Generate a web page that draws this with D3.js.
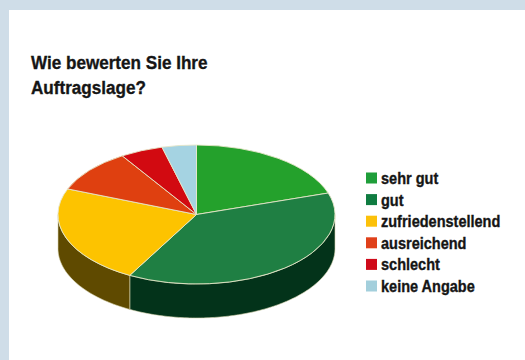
<!DOCTYPE html>
<html>
<head>
<meta charset="utf-8">
<script src="https://cdn.jsdelivr.net/npm/d3@7"></script>
<style>
html,body{margin:0;padding:0;background:#cfdde8;}
svg{display:block;}
text{font-family:"Liberation Sans",sans-serif;font-weight:700;fill:#151515;stroke:#151515;stroke-width:0.35;}
</style>
</head>
<body>
<svg id="chart" width="525" height="360"></svg>
<script>
const titleLines = ["Wie bewerten Sie Ihre", "Auftragslage?"];
const categories = ["sehr gut", "gut", "zufriedenstellend", "ausreichend", "schlecht", "keine Angabe"];
const shares = [20, 38, 23, 10, 5, 4];
const topColors = ["#24a12c", "#1f7f43", "#fdc300", "#df4010", "#d20a11", "#a5d3e2"];
const sideColors = ["#03331a", "#03331a", "#5f4a00", "#7a2406", "#6d0508", "#5a7a85"];
const legendColors = ["#1f9e3a", "#0f7c41", "#fcc10a", "#e0401a", "#cf0a1a", "#a3cfdc"];

const width = 525, height = 360;
const cx = 196.5, cy = 214.5, rx = 138.5, ry = 69.5, depth = 34;

const svg = d3.select("#chart");

svg.append("rect").attr("x", 9).attr("y", 10)
  .attr("width", width - 9).attr("height", height - 10).attr("fill", "#fff");

// Title, set in a condensed bold
svg.append("g").selectAll("text").data(titleLines).join("text")
  .attr("transform", (d, i) => `translate(31,${69 + i * 25}) scale(0.9,1)`)
  .attr("font-size", 19).text(d => d);

// Pie angles and the flattened circle they are projected on
const pie = d3.pie().value(d => d).sort(null);
const arcs = pie(shares);
const arcGen = d3.arc().innerRadius(0).outerRadius(1);
const px = d3.scaleLinear().domain([-1, 1]).range([cx - rx, cx + rx]);
const py = d3.scaleLinear().domain([-1, 1]).range([cy - ry, cy + ry]);
const rimX = a => px(Math.sin(a));
const rimY = a => py(-Math.cos(a));

// Extruded wall: only the front half of the rim (pi/2 to 3pi/2) can be seen
function wallPath(a0, a1) {
  const s = Math.max(a0, Math.PI / 2), e = Math.min(a1, 3 * Math.PI / 2);
  if (e <= s) return null;
  const p = d3.path();
  p.moveTo(rimX(s), rimY(s));
  const steps = d3.range(s, e, 0.02).concat(e);
  steps.forEach(a => p.lineTo(rimX(a), rimY(a)));
  steps.reverse().forEach(a => p.lineTo(rimX(a), rimY(a) + depth));
  p.closePath();
  return p.toString();
}

svg.append("g").selectAll("path").data(arcs).join("path")
  .attr("d", d => wallPath(d.startAngle, d.endAngle))
  .attr("fill", (d, i) => sideColors[i])
  .attr("stroke", "#d9d5b0").attr("stroke-width", 0.6);

// Top face
svg.append("g")
  .attr("transform", `translate(${cx},${cy}) scale(${rx},${ry})`)
  .selectAll("path").data(arcs).join("path")
  .attr("d", arcGen)
  .attr("fill", (d, i) => topColors[i])
  .attr("stroke", "#e6e6c8").attr("stroke-width", 0.9)
  .attr("vector-effect", "non-scaling-stroke");

// Legend
const legendY = d3.scalePoint().domain(categories).range([178, 286]);
const legend = svg.append("g").selectAll("g").data(categories).join("g")
  .attr("transform", d => `translate(366,${legendY(d)})`);
legend.append("rect").attr("x", 0).attr("y", -5.5).attr("width", 11).attr("height", 11)
  .attr("fill", (d, i) => legendColors[i]);
legend.append("text").attr("transform", "translate(15,6) scale(0.88,1)")
  .attr("font-size", 16.5).text(d => d);
</script>
</body>
</html>
